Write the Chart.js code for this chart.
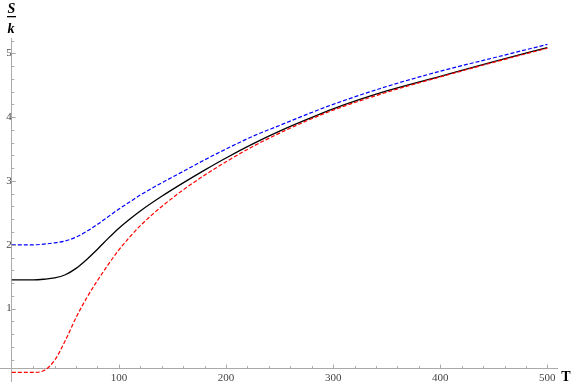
<!DOCTYPE html>
<html>
<head>
<meta charset="utf-8">
<script src="https://cdn.jsdelivr.net/npm/chart.js@4/dist/chart.umd.min.js"></script>
<style>
  html, body { margin: 0; padding: 0; background: #fff; }
  #wrap { width: 572px; height: 382px; position: relative; }
</style>
</head>
<body>
<div id="wrap"><canvas id="mainChart"></canvas></div>
<script>
// temperature samples
const T = [0, 10, 20, 30, 40, 50, 60, 70, 80, 90, 100, 110, 120, 140, 160, 180, 200, 225, 250, 275, 300, 350, 400, 450, 500];

// S/k curves
const blueS  = [2.00, 2.00, 2.00, 2.01, 2.03, 2.06, 2.12, 2.21, 2.32, 2.44, 2.56, 2.67, 2.78, 2.97, 3.15, 3.33, 3.50, 3.70, 3.87, 4.04, 4.20, 4.48, 4.72, 4.93, 5.14];
const blackS = [1.45, 1.45, 1.45, 1.46, 1.48, 1.53, 1.63, 1.77, 1.93, 2.10, 2.26, 2.40, 2.53, 2.76, 2.97, 3.17, 3.36, 3.58, 3.78, 3.96, 4.13, 4.41, 4.64, 4.87, 5.09];
const redS   = [0.00, 0.00, 0.00, 0.03, 0.19, 0.50, 0.86, 1.17, 1.44, 1.69, 1.92, 2.12, 2.30, 2.60, 2.86, 3.09, 3.30, 3.54, 3.75, 3.94, 4.11, 4.39, 4.63, 4.86, 5.08];

// axis ticks
const xTicks = [100, 200, 300, 400, 500];
const yTicks = [1, 2, 3, 4, 5];
const xMinor = [20, 40, 60, 80, 120, 140, 160, 180, 220, 240, 260, 280, 320, 340, 360, 380, 420, 440, 460, 480];
const yMinor = [0.2, 0.4, 0.6, 0.8, 1.2, 1.4, 1.6, 1.8, 2.2, 2.4, 2.6, 2.8, 3.2, 3.4, 3.6, 3.8, 4.2, 4.4, 4.6, 4.8, 5.2];

const AXIS = '#aaaaaa';
const SERIF = '"Liberation Serif", "DejaVu Serif", serif';

const toPts = ys => T.map((t, i) => ({ x: t, y: ys[i] }));

// minor/major tick marks (pointing into the plot) and axis titles
const axisDecor = {
    id: 'axisDecor',
    afterDraw(chart) {
        const { ctx, scales: { x, y } } = chart;
        const x0 = x.getPixelForValue(0);
        const y0 = y.getPixelForValue(0.06);
        ctx.save();
        ctx.strokeStyle = AXIS;
        ctx.lineWidth = 1;
        ctx.beginPath();
        xTicks.forEach(v => { const p = Math.round(x.getPixelForValue(v)) + 0.5; ctx.moveTo(p, y0); ctx.lineTo(p, y0 - 4); });
        xMinor.forEach(v => { const p = Math.round(x.getPixelForValue(v)) + 0.5; ctx.moveTo(p, y0); ctx.lineTo(p, y0 - 2.5); });
        yTicks.forEach(v => { const p = Math.round(y.getPixelForValue(v)) + 0.5; ctx.moveTo(x0, p); ctx.lineTo(x0 + 4, p); });
        yMinor.forEach(v => { const p = Math.round(y.getPixelForValue(v)) + 0.5; ctx.moveTo(x0, p); ctx.lineTo(x0 + 2.5, p); });
        ctx.stroke();

        // S over k
        ctx.fillStyle = '#000';
        ctx.textAlign = 'center';
        ctx.textBaseline = 'middle';
        ctx.font = 'bold italic 14px ' + SERIF;
        ctx.fillText('S', 11.5, 9);
        ctx.fillText('k', 11, 29);
        ctx.fillRect(7, 16, 9, 1.3);
        ctx.font = 'bold 14px ' + SERIF;
        ctx.fillText('T', 566, 377);
        ctx.restore();
    }
};

const ctx = document.getElementById('mainChart').getContext('2d');
new Chart(ctx, {
    type: 'line',
    data: {
        datasets: [
            { label: 'red', data: toPts(redS), borderColor: '#ff0000', borderWidth: 1.2, borderDash: [4, 2], order: 0 },
            { label: 'black', data: toPts(blackS), borderColor: '#000000', borderWidth: 1.3, order: 1 },
            { label: 'blue', data: toPts(blueS), borderColor: '#0000ff', borderWidth: 1.2, borderDash: [4, 2], order: 2 }
        ]
    },
    options: {
        responsive: true,
        maintainAspectRatio: false,
        animation: false,
        events: [],
        elements: {
            point: { radius: 0 },
            line: { cubicInterpolationMode: 'monotone', fill: false }
        },
        layout: { padding: { left: 0, right: 15, top: 38, bottom: 0 } },
        plugins: { legend: { display: false }, tooltip: { enabled: false } },
        scales: {
            x: {
                type: 'linear',
                min: -11,
                max: 509,
                position: { y: 0.06 },
                afterBuildTicks: s => { s.ticks = xTicks.map(v => ({ value: v })); },
                grid: { display: false, drawTicks: false },
                border: { display: true, color: AXIS, width: 1 },
                ticks: { color: '#444', padding: 3, font: { family: SERIF, size: 11 }, maxRotation: 0, autoSkip: false }
            },
            y: {
                type: 'linear',
                min: -0.15,
                max: 5.24,
                position: { x: 0 },
                afterBuildTicks: s => { s.ticks = yTicks.map(v => ({ value: v })); },
                afterFit: s => { s.paddingTop = 0; s.paddingBottom = 0; },
                grid: { display: false, drawTicks: false },
                border: { display: true, color: AXIS, width: 1 },
                ticks: { color: '#444', padding: 3, font: { family: SERIF, size: 11 } }
            }
        }
    },
    plugins: [axisDecor]
});
</script>
</body>
</html>
